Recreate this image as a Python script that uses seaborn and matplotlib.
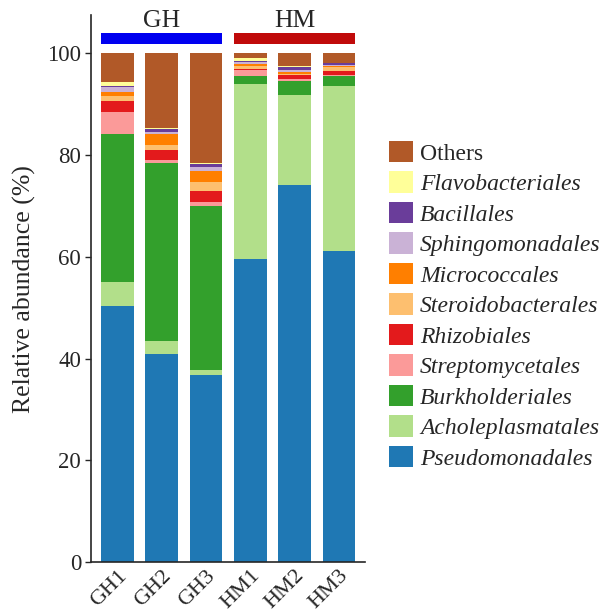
import numpy as np
import pandas as pd
import matplotlib
matplotlib.use("Agg")
import matplotlib.pyplot as plt
from matplotlib.patches import Patch, Rectangle
import seaborn as sns

samples = ["GH1", "GH2", "GH3", "HM1", "HM2", "HM3"]
groups = ["GH", "HM"]

# relative abundance (%) per order, bottom of the stack first
pseudomonadales   = [50.3, 40.9, 36.8, 59.5, 74.1, 61.1]
acholeplasmatales = [4.8, 2.6, 1.0, 34.5, 17.8, 32.6]
burkholderiales   = [29.1, 35.0, 32.3, 1.5, 2.6, 1.8]
streptomycetales  = [4.2, 0.5, 0.65, 1.3, 0.45, 0.3]
rhizobiales       = [2.2, 2.0, 2.3, 0.2, 0.85, 0.85]
steroidobacterales = [1.0, 1.0, 1.6, 0.6, 0.25, 0.6]
micrococcales     = [0.85, 2.2, 2.3, 0.35, 0.25, 0.2]
sphingomonadales  = [1.0, 0.45, 0.8, 0.3, 0.45, 0.3]
bacillales        = [0.25, 0.45, 0.6, 0.25, 0.6, 0.35]
flavobacteriales  = [0.65, 0.15, 0.2, 0.6, 0.1, 0.1]

orders = ["Pseudomonadales", "Acholeplasmatales", "Burkholderiales",
          "Streptomycetales", "Rhizobiales", "Steroidobacterales",
          "Micrococcales", "Sphingomonadales", "Bacillales",
          "Flavobacteriales", "Others"]

paired = sns.color_palette("Paired", 12)
colors = dict(zip(orders, paired[1:]))

df = pd.DataFrame({
    "Pseudomonadales": pseudomonadales,
    "Acholeplasmatales": acholeplasmatales,
    "Burkholderiales": burkholderiales,
    "Streptomycetales": streptomycetales,
    "Rhizobiales": rhizobiales,
    "Steroidobacterales": steroidobacterales,
    "Micrococcales": micrococcales,
    "Sphingomonadales": sphingomonadales,
    "Bacillales": bacillales,
    "Flavobacteriales": flavobacteriales,
}, index=samples)
df["Others"] = 100 - df.sum(axis=1)
cum = df.cumsum(axis=1)

sns.set_style("ticks")
plt.rcParams["font.family"] = ["Liberation Serif", "DejaVu Serif"]

fig = plt.figure(figsize=(6.13, 6.13), dpi=100)
ax = fig.add_axes([0.148, 0.083, 0.447, 0.892])

# draw cumulative tops from the highest layer down so each stack segment shows
for name in reversed(orders):
    sns.barplot(x=samples, y=cum[name].values, color=colors[name],
                saturation=1, width=0.74, linewidth=0, ax=ax)

ax.set_xlim(-0.6, 5.58)
ax.set_ylim(0, 107.5)
ax.set_yticks([0, 20, 40, 60, 80, 100])
ax.tick_params(axis="y", labelsize=16.5, length=4, width=1, direction="out", pad=3)
ax.tick_params(axis="x", labelsize=16, length=0, pad=3)
plt.setp(ax.get_xticklabels(), rotation=45, ha="right", rotation_mode="anchor")
ax.set_ylabel("Relative abundance (%)", fontsize=18.5, labelpad=8)
sns.despine(ax=ax)
for s in ("left", "bottom"):
    ax.spines[s].set_linewidth(1.2)

# group bars above the stacks
group_colors = ["#0000F0", "#C00A0A"]
for i, (g, c) in enumerate(zip(groups, group_colors)):
    x0 = 3 * i - 0.37
    ax.add_patch(Rectangle((x0, 101.8), 2.74, 2.2, color=c, clip_on=False, lw=0))
    ax.text(3 * i + 1, 104.3, g, ha="center", va="bottom", fontsize=18.5)

handles = [Patch(facecolor=colors[n], edgecolor="none") for n in reversed(orders)]
leg = fig.legend(handles, list(reversed(orders)), loc="center left",
                 bbox_to_anchor=(0.635, 0.502), frameon=False, fontsize=17,
                 handlelength=1.0, handleheight=1.0, handletextpad=0.3,
                 labelspacing=0.29, borderaxespad=0, borderpad=0)
for t in leg.get_texts():
    if t.get_text() != "Others":
        t.set_fontstyle("italic")

fig.savefig("out.png", dpi=100)
